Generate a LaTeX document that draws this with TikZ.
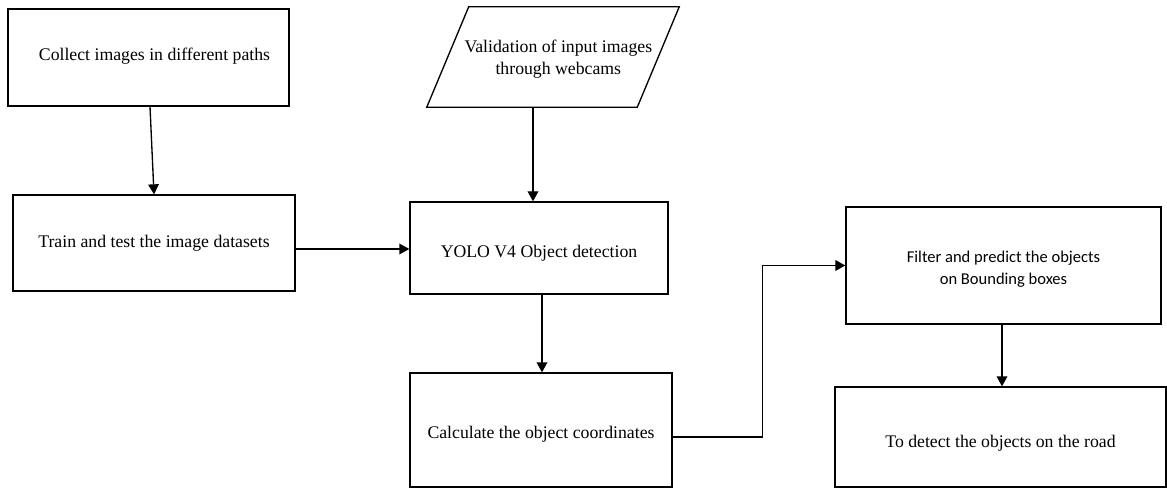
\documentclass[tikz,border=0pt]{standalone}
\usepackage{fontspec}
\setmainfont{Liberation Serif}
\newfontfamily\calibri{Carlito}
\usetikzlibrary{calc,arrows.meta}
\newcommand{\basetxt}[2]{\raisebox{#1}[0pt][0pt]{#2}}
\begin{document}
\begin{tikzpicture}[x=0.75pt,y=-0.75pt,
  box/.style={draw=black,line width=1pt,rectangle,inner sep=0pt,align=center,
    font=\fontsize{13.3}{16}\selectfont},
  arr/.style={draw=black,line width=1pt,-{Triangle[length=7.5pt,width=8pt]}},
  conn/.style={draw=black,line width=1pt}]
\useasboundingbox (0,0) rectangle (1167,488);
\node[box,minimum width=281*0.75pt,minimum height=97*0.75pt] (collect) at (148.5,57.5)
  {\basetxt{-2.6pt}{\hspace*{9pt}Collect images in different paths}};
\node[box,minimum width=282*0.75pt,minimum height=96*0.75pt] (train) at (154,243)
  {\basetxt{-3.75pt}{Train and test the image datasets}};
\node[inner sep=0pt,align=center,minimum width=210*0.75pt,minimum height=100*0.75pt,
  font=\fontsize{13.3}{16}\selectfont] (val) at (553,57)
  {\basetxt{3pt}{\begin{tabular}[t]{@{}c@{}}\hspace*{8pt}Validation of input images\\[0.5pt]\hspace*{8pt}through webcams\end{tabular}}};
\draw[conn] ($(val.north west)+(21,0)$) -- ($(val.north east)+(21,0)$)
  -- ($(val.south east)+(-21,0)$) -- ($(val.south west)+(-21,0)$) -- cycle;
\node[box,minimum width=258*0.75pt,minimum height=92*0.75pt] (yolo) at (539,248)
  {\basetxt{-6.75pt}{YOLO V4 Object detection}};
\node[box,minimum width=262*0.75pt,minimum height=114*0.75pt] (calc) at (541,430)
  {\basetxt{-6pt}{Calculate the object coordinates}};
\node[box,minimum width=315*0.75pt,minimum height=117*0.75pt,
  font=\calibri\fontsize{12.4}{15}\selectfont] (filter) at (1003.5,265.5)
  {\basetxt{1.9pt}{\begin{tabular}[t]{@{}c@{}}Filter and predict the objects\\[1.5pt]on Bounding boxes\end{tabular}}};
\node[box,minimum width=331*0.75pt,minimum height=100*0.75pt] (road) at (1000.5,437)
  {\basetxt{-7.5pt}{To detect the objects on the road}};
\draw[arr] ($(collect.south)+(1.5,0)$) -- ($(train.north)+(0,0)$);
\draw[arr] ($(train.east)+(0,6)$) -- ($(yolo.west)+(0,1)$);
\draw[arr] ($(val.south)+(-20,0)$) -- ($(yolo.north)+(-6,0)$);
\draw[arr] ($(yolo.south)+(3,0)$) -- ($(calc.north)+(1,0)$);
\draw[arr] ($(calc.east)+(0,7)$) -| ($(filter.west)+(-83,0)$) -- (filter.west);
\draw[arr] ($(filter.south)+(-1.5,0)$) -- ($(road.north)+(1.5,0)$);
\end{tikzpicture}
\end{document}
